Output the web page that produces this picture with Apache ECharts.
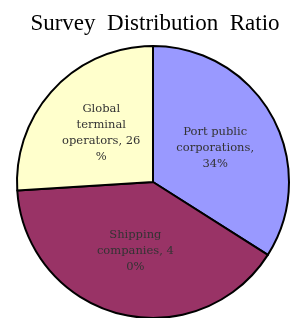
<!DOCTYPE html>
<html>
<head>
    <meta charset="utf-8">
    <title>Survey Distribution Ratio</title>
    <script src="https://cdn.jsdelivr.net/npm/echarts@6.0.0/dist/echarts.min.js"></script>
    <style>
        html, body { margin: 0; padding: 0; background: #fff; }
        #chart { width: 295px; height: 318px; }
    </style>
</head>
<body>
<div id="chart"></div>
<script>
    // data
    const categories = ['Port public corporations', 'Shipping companies', 'Global terminal operators'];
    const shares = [34, 40, 26];
    // labels are wrapped the same way as in the original
    const labelTexts = [
        'Port public\ncorporations,\n34%',
        'Shipping\ncompanies, 4\n0%',
        'Global\nterminal\noperators, 26\n%'
    ];
    const colors = ['#9999FF', '#993366', '#FFFFCC'];

    const chart = echarts.init(document.getElementById('chart'));
    chart.setOption({
        animation: false,
        title: {
            text: 'Survey  Distribution  Ratio',
            left: 150,
            textAlign: 'center',
            top: 7,
            textStyle: { fontFamily: 'Liberation Serif', fontSize: 23, fontWeight: 'normal', color: '#000' }
        },
        series: [{
            type: 'pie',
            center: [153, 182],
            radius: [0, 136],
            startAngle: 90,
            clockwise: true,
            label: {
                position: 'inside',
                fontFamily: 'DejaVu Serif',
                fontSize: 11.5,
                lineHeight: 16,
                color: '#333',
                formatter: p => labelTexts[p.dataIndex]
            },
            labelLine: { show: false },
            itemStyle: { borderColor: '#000', borderWidth: 2 },
            data: categories.map((c, i) => ({ name: c, value: shares[i], itemStyle: { color: colors[i] } }))
        }]
    });
</script>
</body>
</html>
